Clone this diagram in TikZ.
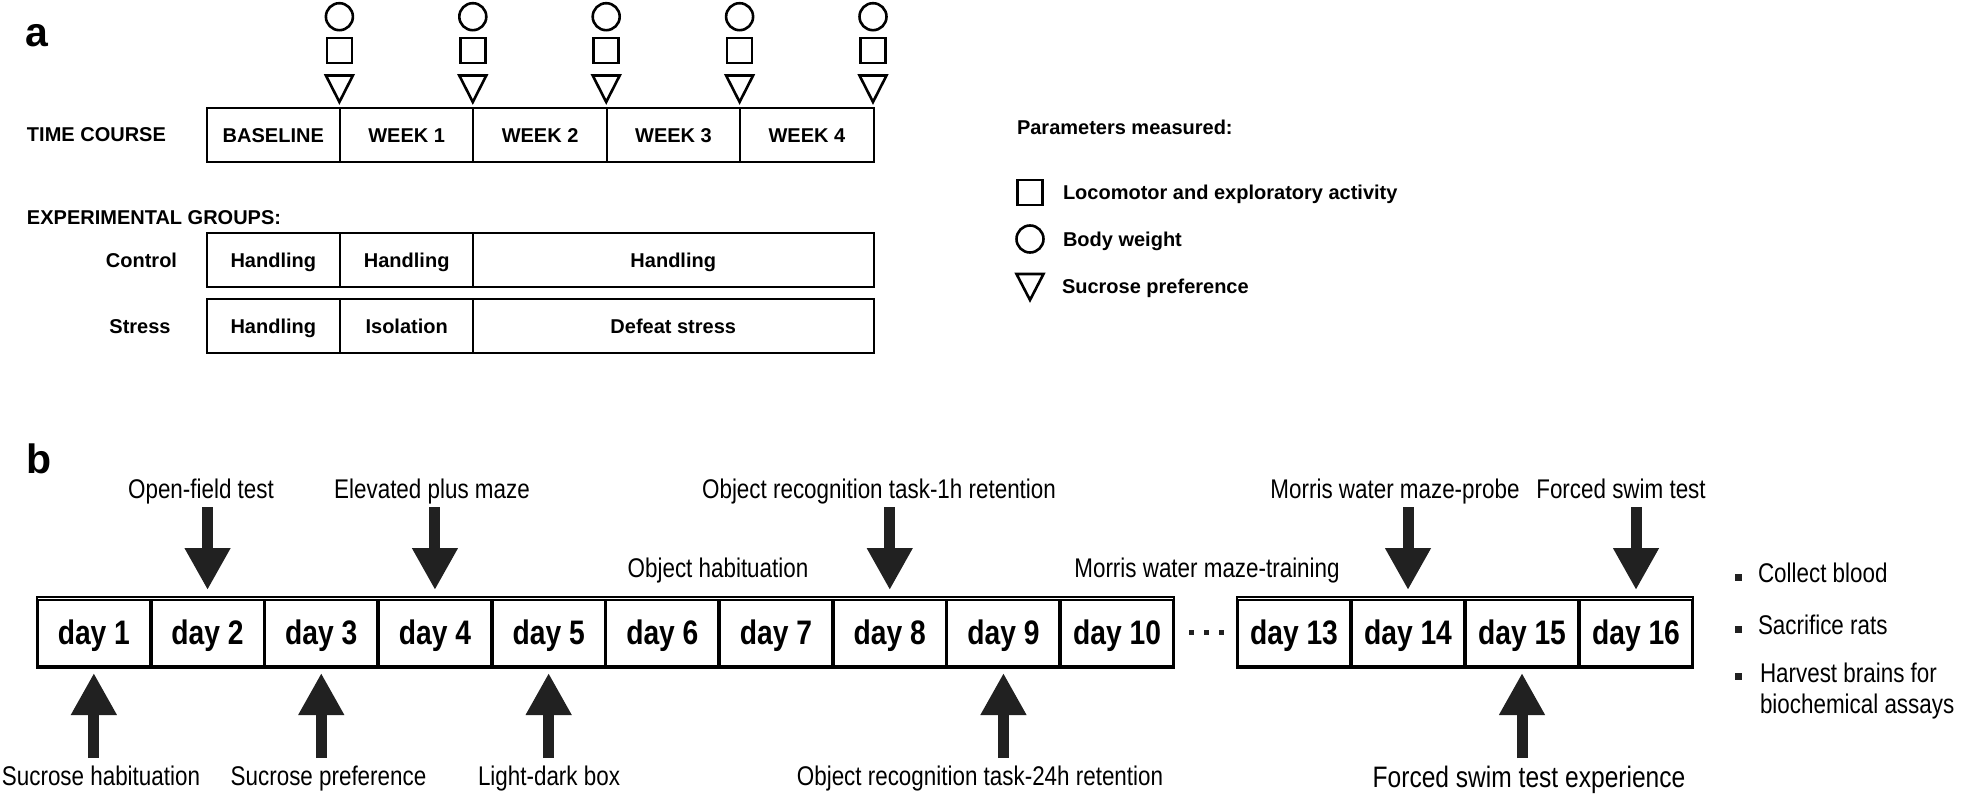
\documentclass[tikz,border=0pt]{standalone}
\usepackage{fontspec}
\setmainfont{Liberation Sans}
\newfontfamily\nfont[FakeStretch=0.83]{Liberation Sans}
\usetikzlibrary{arrows.meta,calc}
\begin{document}
\begin{tikzpicture}[x=1pt,y=-1pt,
  every node/.style={inner sep=0pt, outer sep=0pt},
  acell/.style={draw, line width=2pt, minimum height=54pt, text height=14.3pt, text depth=0pt, font=\fontsize{20}{24}\selectfont\bfseries},
  alabel/.style={font=\fontsize{20}{24}\selectfont\bfseries, anchor=base west},
  acenter/.style={font=\fontsize{20}{24}\selectfont\bfseries, anchor=base},
  panel/.style={font=\fontsize{41}{48}\selectfont\bfseries, anchor=base west},
  dcell/.style={draw, line width=2pt, minimum height=66pt, text height=24.5pt, text depth=0pt, font=\nfont\fontsize{34}{40}\selectfont\bfseries},
  blabel/.style={font=\nfont\fontsize{27}{32}\selectfont, anchor=base},
  bitem/.style={font=\nfont\fontsize{27}{32}\selectfont, anchor=base west},
  bigarrow/.style={line width=11pt, draw=black!87, -{Triangle[width=43pt,length=42pt]}},
  sym/.style={draw, line width=2.6pt},
  outerbox/.style={line width=2.2pt},
]
\useasboundingbox (0,0) rectangle (1961,794);

% ---------------- panel a ----------------
\node[panel] (pa) at (25,47) {a};

\foreach \x [count=\i] in {339.4,472.8,606.2,739.6,873.0}{
  \node[sym, circle, minimum size=27pt] (circ\i) at (\x,16.7) {};
  \node[sym, rectangle, minimum size=25pt] (sq\i) at (\x,50.5) {};
  \draw[sym, line join=miter] (\x-13.5,75.5) -- (\x+13.5,75.5) -- (\x,102) -- cycle;
}

\node[alabel] (tc) at (27,142) {TIME COURSE};
\foreach \t [count=\i] in {BASELINE,WEEK 1,WEEK 2,WEEK 3,WEEK 4}{
  \node[acell, minimum width=133.4pt] (tc\i) at ({206.6+133.4*(\i-0.5)},135) {\t};
}

\node[alabel] (eg) at (27,225) {EXPERIMENTAL GROUPS:};

\node[acenter] (ctl) at (141.5,267) {Control};
\node[acell, minimum width=133.4pt] (c1) at (273.3,260) {Handling};
\node[acell, minimum width=133.4pt] (c2) at (406.7,260) {Handling};
\node[acell, minimum width=400.9pt] (c3) at (673.25,260) {Handling};

\node[acenter] (str) at (140,333) {Stress};
\node[acell, minimum width=133.4pt] (s1) at (273.3,326) {Handling};
\node[acell, minimum width=133.4pt] (s2) at (406.7,326) {Isolation};
\node[acell, minimum width=400.9pt] (s3) at (673.25,326) {Defeat stress};

% legend
\node[alabel] (pm) at (1017,135) {Parameters measured:};
\node[sym, rectangle, minimum size=25pt] (lsq) at (1030,192.5) {};
\node[alabel] (lsqt) at (1063,200) {Locomotor and exploratory activity};
\node[sym, circle, minimum size=27pt] (lci) at (1030,239) {};
\node[alabel] (lcit) at (1063,247) {Body weight};
\draw[sym, line join=miter] (1016.5,274) -- (1043.5,274) -- (1030,300) -- cycle;
\node[alabel] (ltrt) at (1062,294) {Sucrose preference};

% ---------------- panel b ----------------
\node[panel] (pb) at (26,473) {b};

\draw[outerbox] (37,597) rectangle (1174,668);
\foreach \i in {1,...,10}{
  \node[dcell, minimum width=112pt] (d\i) at ({37+113.7*(\i-0.5)},632.5) {day \i};
}
\draw[outerbox] (1237,597) rectangle (1693,668);
\foreach \i [count=\j] in {13,14,15,16}{
  \node[dcell, minimum width=112.3pt] (d\i) at ({1237+114*(\j-0.5)},632.5) {day \i};
}

\foreach \x [count=\i] in {1191,1206,1221}{
  \node[fill=black!87, minimum size=5pt] (dot\i) at (\x,632) {};
}

% top labels and arrows
\node[blabel] (lofl) at (201,498) {Open-field test};
\node[blabel] (lepm) at (432,498) {Elevated plus maze};
\node[blabel] (lor1) at (879,498) {Object recognition task-1h retention};
\node[blabel] (loh) at (718,577) {Object habituation};
\node[blabel] (lmwt) at (1207,577) {Morris water maze-training};
\node[blabel] (lmwp) at (1395,498) {Morris water maze-probe};
\node[blabel] (lfst) at (1621,498) {Forced swim test};

\foreach \k in {2,4,8,14,16}{
  \coordinate (ta\k) at (d\k.north |- 0,507);
  \draw[bigarrow, shorten >=9.5pt] (ta\k) -- (d\k);
}

% bottom labels and arrows
\node[blabel] (lsh) at (101,785) {Sucrose habituation};
\node[blabel] (lsp) at (328.5,785) {Sucrose preference};
\node[blabel] (lldb) at (549,785) {Light-dark box};
\node[blabel] (lor24) at (980,785) {Object recognition task-24h retention};
\node[blabel, font=\nfont\fontsize{29.6}{35}\selectfont] (lfse) at (1529,787) {Forced swim test experience};

\foreach \k in {1,3,5,9,15}{
  \coordinate (ba\k) at (d\k.south |- 0,758);
  \draw[bigarrow, shorten >=7.5pt] (ba\k) -- (d\k);
}

% bullet list
\node[fill=black!87, minimum size=7pt] (bu1) at (1738.5,577.5) {};
\node[bitem] (bt1) at (1758,582) {Collect blood};
\node[fill=black!87, minimum size=7pt] (bu2) at (1738.5,629.5) {};
\node[bitem] (bt2) at (1758,634) {Sacrifice rats};
\node[fill=black!87, minimum size=7pt] (bu3) at (1738.5,676) {};
\node[bitem] (bt3) at (1760,682) {Harvest brains for};
\node[bitem] (bt4) at (1760,713) {biochemical assays};
\end{tikzpicture}
\end{document}
